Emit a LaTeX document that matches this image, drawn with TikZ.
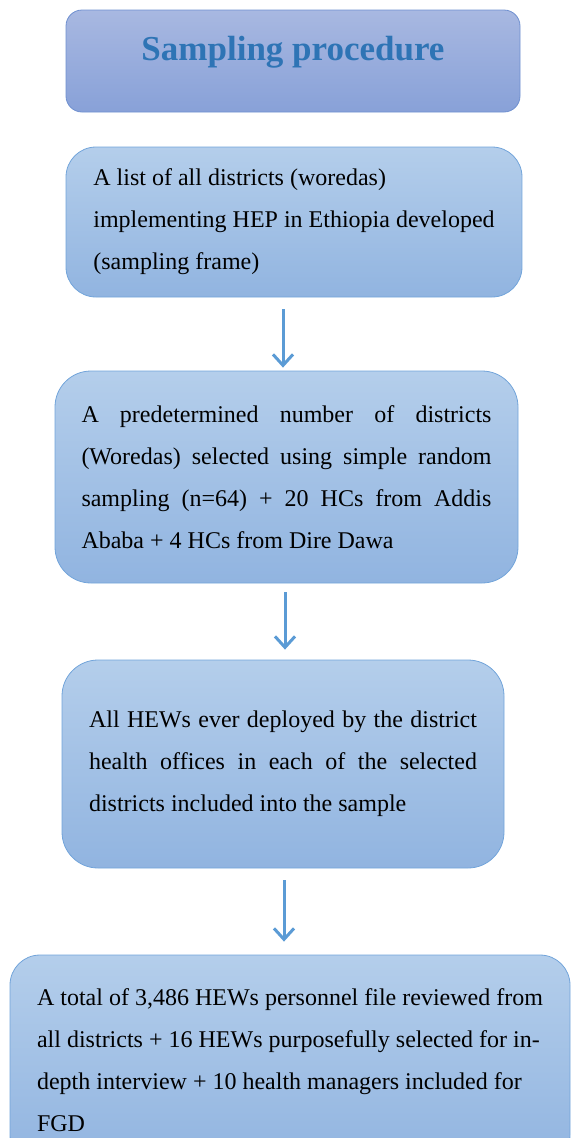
\documentclass[tikz,border=0pt]{standalone}
\usepackage{fontspec}
\setmainfont{Liberation Serif}
\usetikzlibrary{arrows.meta}

\definecolor{headtop}{HTML}{A8B8E1}
\definecolor{headbot}{HTML}{88A1D8}
\definecolor{headline}{HTML}{6F90D0}
\definecolor{headtext}{HTML}{2E74B5}
\definecolor{stagetop}{HTML}{B4CEEB}
\definecolor{stagebot}{HTML}{91B4E0}
\definecolor{stageline}{HTML}{72A4DA}
\definecolor{flowblue}{HTML}{5B9BD5}

\begin{document}
\begin{tikzpicture}[x=1pt,y=-1pt,
  heading/.style={draw=headline,line width=0.8pt,top color=headtop,bottom color=headbot,
    rounded corners=16pt,minimum width=454pt,minimum height=102pt,
    font=\fontsize{35}{40}\selectfont\bfseries,text=headtext,text depth=26pt},
  stage/.style={draw=stageline,line width=0.8pt,top color=stagetop,bottom color=stagebot,
    rounded corners=30pt,inner xsep=0pt,font=\fontsize{24}{42}\selectfont},
  flow/.style={draw=flowblue,line width=3pt,-{Straight Barb[length=11pt,width=20pt]}}]
  \useasboundingbox (0,0) rectangle (577,1138);
  \clip (0,0) rectangle (577,1138);

  \node[heading] (title) at (293,61) {Sampling procedure};

  \node[stage,minimum width=456pt,minimum height=150pt,align=left] (frame) at (294,222)
    {A list of all districts (woredas)\\implementing HEP in Ethiopia developed\\(sampling frame)};
  \node[stage,minimum width=463pt,minimum height=212pt,text width=410pt,align=justify,rounded corners=36pt] (woreda) at (286.5,477)
    {A predetermined number of districts\linebreak (Woredas) selected using simple random\linebreak sampling (n=64) + 20 HCs from Addis\linebreak Ababa + 4 HCs from Dire Dawa};
  \node[stage,minimum width=442pt,minimum height=208pt,text width=388pt,align=justify,rounded corners=36pt] (hews) at (283,764)
    {All HEWs ever deployed by the district\linebreak health offices in each of the selected\linebreak districts included into the sample};
  \node[stage,minimum width=560pt,minimum height=210pt,align=left] (review) at (290,1060)
    {A total of 3,486 HEWs personnel file reviewed from\\all districts + 16 HEWs purposefully selected for in-\\depth interview + 10 health managers included for\\FGD};

  \draw[flow] ([shift={(-11,12)}]frame.south) -- ([shift={(-3.5,-3)}]woreda.north);
  \draw[flow] ([shift={(-1.5,9)}]woreda.south) -- ([shift={(2,-10)}]hews.north);
  \draw[flow] ([shift={(1,12)}]hews.south) -- ([shift={(-6,-13)}]review.north);
\end{tikzpicture}
\end{document}
